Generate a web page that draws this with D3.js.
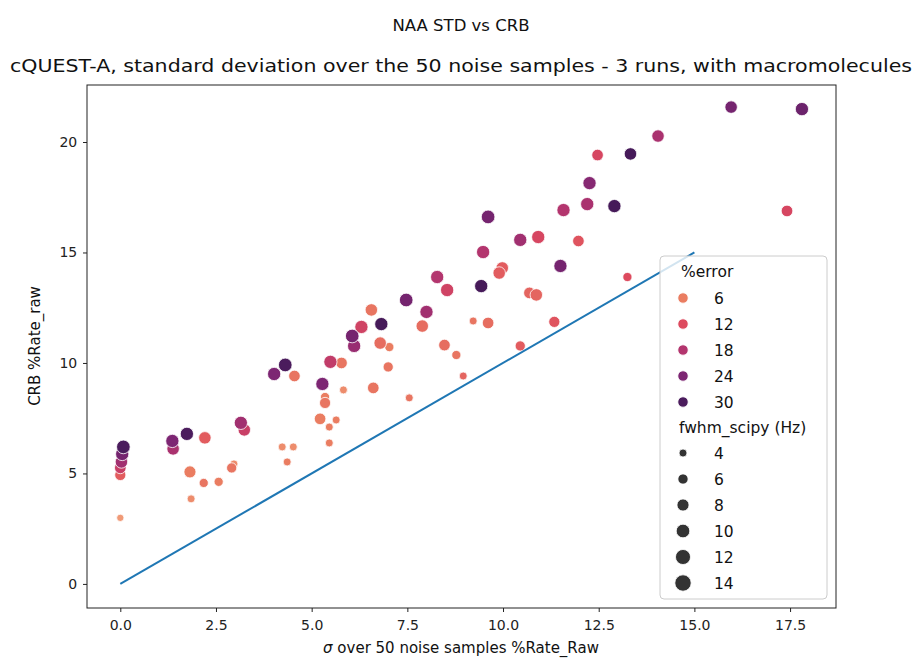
<!DOCTYPE html>
<html><head><meta charset="utf-8">
<script src="https://cdn.jsdelivr.net/npm/d3@7"></script>
<style>body{margin:0;background:#fff}text{font-family:"DejaVu Sans",sans-serif}</style>
</head><body><svg id="c" width="914" height="659"></svg>
<script>
// data
const sigma = [0.08,0.05,0.03,0.00,0.00,0.00,1.36,1.38,1.74,2.21,1.82,1.85,2.18,2.57,2.91,2.97,3.15,3.24,4.02,4.31,4.23,4.36,4.55,4.52,5.28,5.49,5.78,5.83,5.35,5.35,5.22,5.64,5.46,5.46,6.06,6.11,6.30,6.56,6.82,6.79,7.03,7.00,6.61,7.55,7.47,8.00,7.89,8.28,8.54,8.47,8.78,8.96,9.22,9.61,9.43,9.48,9.61,9.98,9.90,10.45,10.92,10.69,10.87,10.45,11.34,11.50,11.58,11.97,12.20,12.26,12.47,12.91,13.33,13.25,14.05,15.96,17.81,17.42];
const crb = [6.20,5.88,5.52,5.25,4.93,2.99,6.47,6.11,6.79,6.61,5.07,3.85,4.57,4.62,5.25,5.43,7.29,6.97,9.50,9.91,6.20,5.52,9.41,6.20,9.05,10.05,10.00,8.78,8.46,8.19,7.47,7.42,7.10,6.38,11.22,10.77,11.63,12.40,11.76,10.90,10.72,9.82,8.87,8.42,12.85,12.31,11.67,13.89,13.30,10.81,10.36,9.41,11.90,11.81,13.48,15.02,16.61,14.30,14.07,15.57,15.70,13.17,13.08,10.77,11.86,14.39,16.92,15.52,17.19,18.14,19.41,17.10,19.46,13.89,20.27,21.58,21.49,16.88];
const errPct = [30,25,20,15,10,4,24,19,30,10,6,5,7,6,7,5,20,15,24,30,5,6,7,5,24,16,7,5,6,7,6,6,6,6,25,21,14,7,31,8,6,7,7,7,25,20,8,18,14,8,7,9,7,8,31,18,25,10,10,20,13,9,9,10,11,25,18,11,19,23,13,31,31,12,19,25,26,13];
const fwhm = [10,9.5,8.5,7.5,7,3.5,9.5,8.5,9.5,8.5,8,4,5,5,6,4,9.5,8.5,9.5,10,4,4,7.5,4,9.5,9.5,7.5,4,5,7,7.5,4,4,4,10,9.5,9.5,8.5,9.5,8.5,5,6,7.5,4,10,9.5,8.5,9.5,9.5,7.5,5,4,4,7.5,9.5,9.5,10,8.5,8.5,9.5,9.5,7.5,8.5,6,7,9.5,9.5,7.5,9.5,9.5,7.5,9.5,8.5,5,8.5,8.5,9.5,7.5];
const xTicks = [0,2.5,5,7.5,10,12.5,15,17.5];
const yTicks = [0,5,10,15,20];
const errLegend = [6,12,18,24,30];
const sizeLegend = [4,6,8,10,12,14];
const idLine = [0,15];

const svg = d3.select("#c");
const L=87,R=836,T=85,B=608;
const x = d3.scaleLinear().domain([-0.87,18.7]).range([L,R]);
const y = d3.scaleLinear().domain([-1.09,22.58]).range([B,T]);
const col = d3.scaleLinear().domain([3,6,12,18,24,30,33])
  .range(["#f3a882","#ea7d61","#dd4a5e","#b3356e","#7d2673","#4b1c5d","#3c1552"])
  .interpolate(d3.interpolateLab).clamp(true);
const rad = v => Math.sqrt(Math.max(0, 16 + (v-4)*5.1));

// title
svg.append("text").attr("x",461).attr("y",31).attr("text-anchor","middle").attr("font-size",16.5).attr("fill","#111").text("NAA STD vs CRB");
svg.append("text").attr("x",461).attr("y",72).attr("text-anchor","middle").attr("font-size",17.5).attr("fill","#111")
  .attr("textLength",902).attr("lengthAdjust","spacingAndGlyphs")
  .text("cQUEST-A, standard deviation over the 50 noise samples - 3 runs, with macromolecules");

// axes
const xa = svg.append("g").attr("transform",`translate(0,${B})`).call(d3.axisBottom(x).tickValues(xTicks).tickFormat(d3.format(".1f")).tickSize(4).tickSizeOuter(0));
const ya = svg.append("g").attr("transform",`translate(${L},0)`).call(d3.axisLeft(y).tickValues(yTicks).tickFormat(d3.format("d")).tickSize(4).tickSizeOuter(0));
[xa,ya].forEach(a=>{a.select(".domain").remove();a.selectAll("text").attr("font-size",14).attr("fill","#222").attr("font-family","DejaVu Sans");a.selectAll("line").attr("stroke","#222");});
xa.selectAll("text").attr("dy","1.1em");
ya.selectAll("text").attr("dx","-0.2em");

// points
const idx = d3.range(sigma.length).sort((a,b)=>errPct[a]-errPct[b]);
svg.append("g").selectAll("circle").data(idx).join("circle")
  .attr("cx",i=>x(sigma[i])).attr("cy",i=>y(crb[i])).attr("r",i=>rad(fwhm[i]))
  .attr("fill",i=>col(errPct[i])).attr("stroke","#fff").attr("stroke-width",0.8);

// identity line
svg.append("line").attr("x1",x(idLine[0])).attr("y1",y(idLine[0])).attr("x2",x(idLine[1])).attr("y2",y(idLine[1]))
  .attr("stroke","#1f77b4").attr("stroke-width",2);

// frame
svg.append("rect").attr("x",L).attr("y",T).attr("width",R-L).attr("height",B-T).attr("fill","none").attr("stroke","#222").attr("stroke-width",1);

// axis labels
svg.append("text").attr("x",461).attr("y",653).attr("text-anchor","middle").attr("font-size",15).attr("fill","#111")
  .html('<tspan font-style="italic">σ</tspan> over 50 noise samples %Rate_Raw');
svg.append("text").attr("transform","translate(40,346) rotate(-90)").attr("text-anchor","middle").attr("font-size",15).attr("fill","#111").text("CRB %Rate_raw");

// legend
const lg = svg.append("g");
lg.append("rect").attr("x",660).attr("y",256).attr("width",167).attr("height",343).attr("rx",4)
  .attr("fill","#fff").attr("fill-opacity",0.8).attr("stroke","#ccc");
lg.append("text").attr("x",681).attr("y",277).attr("font-size",15.5).attr("fill","#111").text("%error");
errLegend.forEach((v,i)=>{
  const cy=298+i*26;
  lg.append("circle").attr("cx",683).attr("cy",cy).attr("r",5.2).attr("fill",col(v)).attr("stroke","#fff").attr("stroke-width",0.8);
  lg.append("text").attr("x",714).attr("y",cy+5.5).attr("font-size",15.5).attr("fill","#111").text(v);
});
lg.append("text").attr("x",679).attr("y",433).attr("font-size",15.5).attr("fill","#111").text("fwhm_scipy (Hz)");
sizeLegend.forEach((v,i)=>{
  const cy=453+i*26;
  lg.append("circle").attr("cx",683).attr("cy",cy).attr("r",rad(v)).attr("fill","#333").attr("stroke","#fff").attr("stroke-width",0.8);
  lg.append("text").attr("x",714).attr("y",cy+5.5).attr("font-size",15.5).attr("fill","#111").text(v);
});
</script></body></html>
